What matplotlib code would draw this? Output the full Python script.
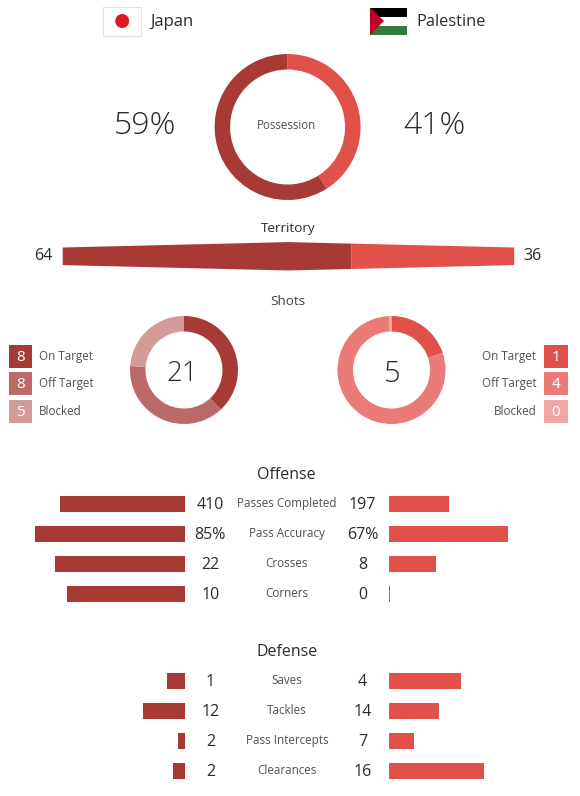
import matplotlib
matplotlib.use("Agg")
import matplotlib.pyplot as plt
from matplotlib.patches import Rectangle, Polygon, Circle

W, H = 580, 796
JPN = "#A83A36"
PLE = "#E2504A"
JPN_SHOTS = ["#A83A36", "#BC6A67", "#D39B98"]
PLE_SHOTS = ["#E2504A", "#EA7B77", "#F0A7A4"]
TXT = "#2b2b2b"
GREY = "#505050"

teams = ["Japan", "Palestine"]
possession = [59, 41]
territory = [64, 36]

shot_labels = ["On Target", "Off Target", "Blocked"]
shots_jpn = [8, 8, 5]
shots_ple = [1, 4, 0]

offense_labels = ["Passes Completed", "Pass Accuracy", "Crosses", "Corners"]
offense_jpn = [410, 85, 22, 10]
offense_ple = [197, 67, 8, 0]
offense_text_jpn = ["410", "85%", "22", "10"]
offense_text_ple = ["197", "67%", "8", "0"]
offense_scale = [0.306, 1.77, 5.9, 11.82]

defense_labels = ["Saves", "Tackles", "Pass Intercepts", "Clearances"]
defense_jpn = [1, 12, 2, 2]
defense_ple = [4, 14, 7, 16]
defense_scale = [17.9, 3.55, 3.5, 5.9]

plt.rcParams["font.family"] = ["Open Sans", "DejaVu Sans"]

fig = plt.figure(figsize=(W / 100, H / 100), dpi=100)
ax = fig.add_axes([0, 0, 1, 1])


def txt(x, y, s, size, color=TXT, ha="center", weight="normal"):
    # open sans sits high with va=center, push it down a bit
    ax.text(x, H - y - 0.11 * size, s, fontsize=size, color=color, ha=ha, va="center", weight=weight)


def ring(x, y, r_out, r_in, values, colors):
    ax.pie(values, colors=colors, center=(x, H - y), radius=r_out, startangle=90,
           counterclock=False, wedgeprops=dict(width=r_out - r_in, linewidth=0))


def bars(ys, left, right, scale, text_l, text_r, labels):
    for i, y in enumerate(ys):
        ax.barh(H - y, left[i] * scale[i], height=16, left=185.2 - left[i] * scale[i],
                color=JPN, linewidth=0)
        ax.barh(H - y, max(right[i] * scale[i], 1.2), height=16, left=389.2, color=PLE, linewidth=0)
        txt(210.4, y, text_l[i], 11.5)
        txt(362.6, y, text_r[i], 11.5)
        txt(287, y - 1, labels[i], 8.4, color=GREY)


# flags
ax.add_patch(Rectangle((103, H - 36), 37.7, 29, fc="white", ec="#e4e0e0", lw=0.8))
ax.add_patch(Circle((122.2, H - 21), 7, fc="#DC1A22", lw=0))
ax.add_patch(Rectangle((370, H - 17), 37, 9.5, fc="black", lw=0))
ax.add_patch(Rectangle((370, H - 26), 37, 9, fc="white", lw=0))
ax.add_patch(Rectangle((370, H - 35), 37, 9, fc="#317B3F", lw=0))
ax.add_patch(Polygon([(370, H - 7.5), (384, H - 21), (370, H - 35)], fc="#BE0027", lw=0))
txt(150.4, 20.5, teams[0], 12, ha="left")
txt(416.7, 20.5, teams[1], 11.8, ha="left")

# possession
ring(287.6, 127, 73, 57.5, possession[::-1], [PLE, JPN])
txt(286.7, 125, "Possession", 8.3, color=GREY)
txt(145, 123.5, "%d%%" % possession[0], 23, weight=300)
txt(435, 123.5, "%d%%" % possession[1], 23, weight=300)

# territory
txt(288, 227, "Territory", 9.7)
txt(43, 255, str(territory[0]), 11.5)
txt(532, 255, str(territory[1]), 11.5)
x0, x1 = 62.2, 513.7
mid = x0 + (x1 - x0) * territory[0] / sum(territory)


def half_h(x):
    # bar swells from the ends to the middle
    return 8.8 + 5.4 * (1 - abs(x - 287.6) / 225.7)


for a, b, c in [(x0, mid, JPN), (mid, x1, PLE)]:
    xs = [a, b] if a > 287.6 or b < 287.6 else [a, 287.6, b]
    ax.fill_between(xs, [H - 255.8 - half_h(v) for v in xs], [H - 255.8 + half_h(v) for v in xs],
                    color=c, linewidth=0)

# shots
txt(287.8, 300, "Shots", 9.7, color="#404040")
ring(184, 370, 54, 38.5, shots_jpn, JPN_SHOTS)
ring(391.5, 370, 54, 38.5, [max(v, 0.035) for v in shots_ple], PLE_SHOTS)
txt(182.6, 371.5, str(sum(shots_jpn)), 20, weight=300)
txt(392.6, 371.5, str(sum(shots_ple)), 21, weight=300)
for i, y in enumerate([356.5, 383.5, 411.5]):
    ax.add_patch(Rectangle((8.9, H - y - 11.5), 23.3, 23, fc=JPN_SHOTS[i], lw=0))
    ax.add_patch(Rectangle((543.7, H - y - 11.5), 24.1, 23, fc=PLE_SHOTS[i], lw=0))
    txt(20.5, y, str(shots_jpn[i]), 11, color="white")
    txt(555.7, y, str(shots_ple[i]), 11, color="white")
    txt(38.9, y - 0.5, shot_labels[i], 8.4, color=GREY, ha="left")
    txt(536.3, y - 0.5, shot_labels[i], 8.4, color=GREY, ha="right")

# offense / defense
txt(286.7, 474, "Offense", 11.5)
bars([504, 534, 564, 594], offense_jpn, offense_ple, offense_scale,
     offense_text_jpn, offense_text_ple, offense_labels)
txt(286.7, 651, "Defense", 11.5)
bars([681, 711, 741, 771], defense_jpn, defense_ple, defense_scale,
     [str(v) for v in defense_jpn], [str(v) for v in defense_ple], defense_labels)

ax.set_xlim(0, W)
ax.set_ylim(0, H)
ax.set_aspect("auto")
ax.axis("off")
fig.savefig("out.png", dpi=100, facecolor="white")
